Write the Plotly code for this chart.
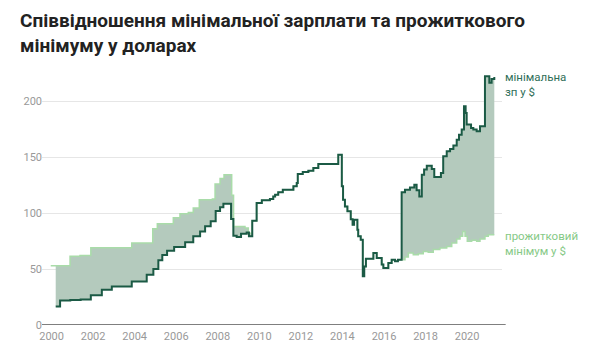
import plotly.graph_objects as go

# Minimum wage in USD (decimal year, value)
wage_x = [2000.20, 2000.41, 2000.90, 2001.40, 2001.89, 2002.42, 2002.90, 2003.86, 2004.58, 2004.90,
          2005.14, 2005.33, 2005.56, 2005.90, 2006.43, 2006.82, 2007.15, 2007.39, 2007.66, 2007.90,
          2008.11, 2008.27, 2008.64, 2008.75, 2008.91, 2009.12, 2009.39, 2009.50, 2009.66, 2009.87,
          2010.12, 2010.51, 2010.67, 2010.76, 2010.91, 2011.13, 2011.64, 2011.80, 2011.85, 2012.09,
          2012.36, 2012.60, 2012.84, 2013.80, 2013.97, 2014.03, 2014.12, 2014.24, 2014.40, 2014.49,
          2014.56, 2014.72, 2014.76, 2014.88, 2014.98, 2015.05, 2015.13, 2015.49, 2015.65, 2015.89,
          2015.97, 2016.21, 2016.37, 2016.53, 2016.67, 2016.85, 2017.01, 2017.25, 2017.46, 2017.57,
          2017.70, 2017.82, 2017.93, 2018.06, 2018.30, 2018.42, 2018.74, 2018.85, 2019.02, 2019.18,
          2019.34, 2019.50, 2019.61, 2019.74, 2019.85, 2019.93, 2019.98, 2020.19, 2020.30, 2020.46,
          2020.62, 2020.86, 2021.07, 2021.18, 2021.31]
wage_y = [16.6, 22.0, 22.3, 22.8, 26.5, 31.6, 34.5, 39.0, 45.0, 50.0,
          57.8, 62.5, 66.5, 69.8, 74.0, 79.3, 83.7, 88.2, 92.7, 102.0,
          105.2, 108.5, 94.8, 79.9, 78.7, 81.7, 82.8, 79.3, 93.3, 109.0,
          111.5, 112.7, 115.0, 116.5, 118.6, 121.0, 124.0, 127.0, 135.0, 136.8,
          138.0, 140.4, 144.0, 152.3, 124.0, 112.0, 106.0, 101.6, 94.5, 89.7,
          94.0, 85.2, 79.3, 76.3, 43.5, 52.4, 59.3, 64.4, 60.0, 54.0,
          51.0, 55.5, 58.4, 57.0, 58.4, 118.6, 121.0, 123.0, 125.5, 120.4,
          115.0, 134.4, 139.0, 142.5, 139.5, 132.4, 136.0, 150.8, 155.3, 157.4,
          160.4, 165.7, 170.2, 174.7, 195.5, 189.6, 179.2, 176.2, 174.7, 173.2,
          177.6, 222.4, 216.5, 220.0, 221.8]

# Subsistence minimum in USD (own values before 2009.6 and after 2016.8;
# in between it equals the minimum wage)
subs_early_x = [1999.96, 2000.89, 2001.37, 2001.89, 2003.86, 2004.87, 2005.09, 2005.86, 2006.18, 2006.58,
                2006.82, 2007.11, 2007.74, 2007.87, 2008.11, 2008.30, 2008.67, 2008.76, 2009.31, 2009.47]
subs_early_y = [53.0, 61.5, 62.2, 69.0, 73.3, 86.0, 90.6, 96.0, 99.5, 100.5,
                104.6, 112.0, 112.7, 126.0, 131.0, 134.4, 116.0, 88.0, 86.7, 82.0]
subs_late_x = [2016.85, 2017.01, 2017.17, 2017.41, 2017.65, 2017.89, 2018.13, 2018.37, 2018.69, 2019.02,
               2019.26, 2019.50, 2019.66, 2019.79, 2019.90, 2020.01, 2020.22, 2020.46, 2020.62, 2020.86,
               2021.02, 2021.31]
subs_late_y = [58.4, 60.8, 64.4, 62.9, 63.8, 65.8, 65.0, 67.4, 68.9, 70.3,
               73.3, 76.9, 79.3, 83.7, 79.3, 74.8, 75.7, 74.8, 76.9, 79.3,
               80.8, 80.8]

x_ticks = list(range(2000, 2021, 2))
y_ticks = [0, 50, 100, 150, 200]

title = "<b>Співвідношення мінімальної зарплати та прожиткового<br>мінімуму у доларах</b>"
label_wage = "мінімальна<br>зп у $"
label_subs = "прожитковий<br>мінімум у $"

# build subsistence series
shared = [(x, y) for x, y in zip(wage_x, wage_y) if 2009.6 <= x < 2016.8]
subs_x = subs_early_x + [p[0] for p in shared] + subs_late_x
subs_y = subs_early_y + [p[1] for p in shared] + subs_late_y
fill_x = [max(x, wage_x[0]) for x in subs_x]

DARK = "#1b5a45"
LIGHT = "#a9dca9"
FILL = "#b4cabd"

fig = go.Figure()
fig.add_trace(go.Scatter(x=wage_x, y=wage_y, mode="lines", line=dict(width=0, shape="hv"),
                         hoverinfo="skip", showlegend=False))
fig.add_trace(go.Scatter(x=fill_x, y=subs_y, mode="lines", line=dict(width=0, shape="hv"),
                         fill="tonexty", fillcolor=FILL, hoverinfo="skip", showlegend=False))
fig.add_trace(go.Scatter(x=subs_x, y=subs_y, mode="lines", line=dict(width=1.5, color=LIGHT, shape="hv"),
                         hoverinfo="skip", showlegend=False))
fig.add_trace(go.Scatter(x=wage_x, y=wage_y, mode="lines", line=dict(width=2, color=DARK, shape="hv"),
                         hoverinfo="skip", showlegend=False))

fig.add_shape(type="line", xref="paper", yref="y", x0=0, x1=1.008, y0=0, y1=0,
              line=dict(color="#555555", width=1.5))

fig.add_annotation(text=title, xref="paper", yref="paper", x=-0.052, y=1.247,
                   xanchor="left", yanchor="top", align="left", showarrow=False,
                   font=dict(family="Roboto", size=19, color="#222222"))
fig.add_annotation(text=label_wage, xref="paper", yref="y", x=1.0, y=215, xanchor="left",
                   yanchor="middle", align="left", showarrow=False, xshift=1,
                   font=dict(family="Roboto", size=11.5, color="#2f6e58"))
fig.add_annotation(text=label_subs, xref="paper", yref="y", x=1.0, y=72.5, xanchor="left",
                   yanchor="middle", align="left", showarrow=False, xshift=1,
                   font=dict(family="Roboto", size=11.5, color="#86c986"))

fig.update_layout(
    width=600, height=359,
    margin=dict(l=42, r=98, t=70, b=34),
    paper_bgcolor="white", plot_bgcolor="white",
    font=dict(family="Roboto", color="#999999", size=11),
    hovermode=False,
    xaxis=dict(range=[1999.54, 2021.68], tickvals=x_ticks, tickformat="d", showgrid=False,
               zeroline=False, showline=False, ticks="", ticklabelstandoff=3,
               tickfont=dict(size=11, color="#999999")),
    yaxis=dict(range=[0, 228], tickvals=y_ticks, showgrid=True, gridcolor="#e6e6e6", gridwidth=1,
               zeroline=False, showline=False, ticks="", ticklabelstandoff=-1,
               tickfont=dict(size=11, color="#999999")),
)

fig.write_html("out.html", config={"displayModeBar": False},
               post_script="document.body.style.margin='0';")
